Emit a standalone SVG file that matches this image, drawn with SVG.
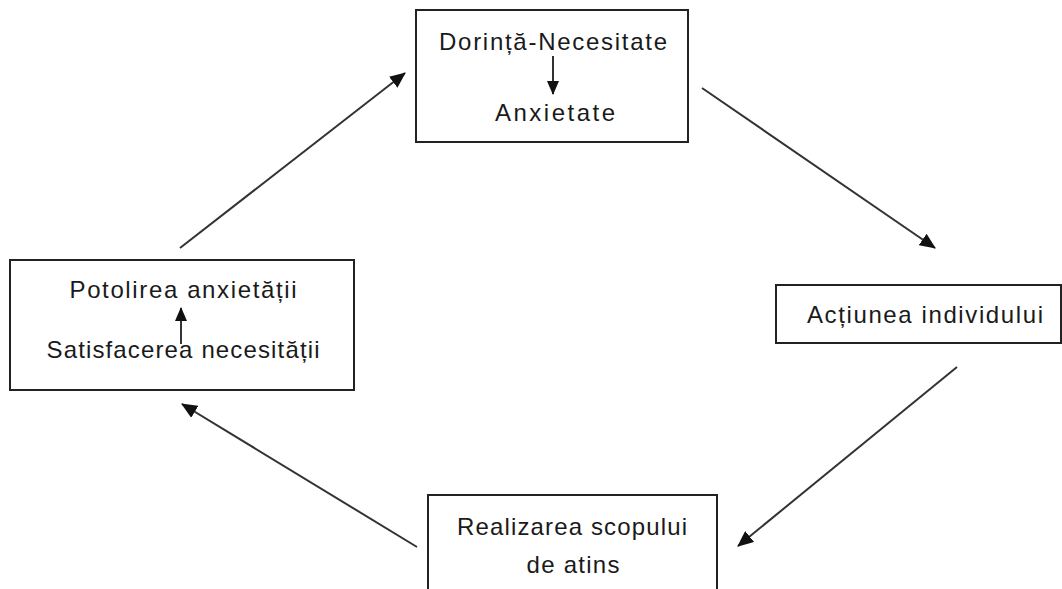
<svg xmlns="http://www.w3.org/2000/svg" width="1062" height="589" viewBox="0 0 1062 589">
<style>
.box{fill:#fff;stroke:#222;stroke-width:2}
.t{font-family:"Liberation Sans",Arial,sans-serif;font-size:24px;fill:#1a1a1a;text-anchor:middle}
.c{stroke:#333;stroke-width:2;fill:none}
</style>
<defs>
<marker id="ah" viewBox="0 0 16 14" refX="15" refY="7" markerWidth="16" markerHeight="14" orient="auto" markerUnits="userSpaceOnUse">
<path d="M0,0 L16,7 L0,14 z" fill="#111"/>
</marker>
<marker id="ahs" viewBox="0 0 14 12" refX="13" refY="6" markerWidth="14" markerHeight="12" orient="auto" markerUnits="userSpaceOnUse">
<path d="M0,0 L14,6 L0,12 z" fill="#111"/>
</marker>
</defs>
<rect width="1062" height="589" fill="#fff"/>
<g id="connectors">
<line class="c" x1="180" y1="248" x2="405" y2="73" marker-end="url(#ah)"/>
<line class="c" x1="702" y1="88" x2="935" y2="248" marker-end="url(#ah)"/>
<line class="c" x1="957" y1="367" x2="738" y2="546" marker-end="url(#ah)"/>
<line class="c" x1="417" y1="547" x2="182" y2="404" marker-end="url(#ah)"/>
</g>
<g id="node-dorinta">
<rect class="box" x="416" y="10" width="272" height="132"/>
<text class="t" x="553" y="50" textLength="228" lengthAdjust="spacing">Dorință-Necesitate</text>
<line class="c" x1="553" y1="56" x2="553" y2="94" marker-end="url(#ahs)"/>
<text class="t" x="555" y="121" textLength="120" lengthAdjust="spacing">Anxietate</text>
</g>
<g id="node-actiunea">
<rect class="box" x="776" y="285" width="285" height="58"/>
<text class="t" x="925" y="323" textLength="236" lengthAdjust="spacing">Acțiunea individului</text>
</g>
<g id="node-realizarea">
<rect class="box" x="428" y="495" width="289" height="100"/>
<text class="t" x="572" y="535" textLength="230" lengthAdjust="spacing">Realizarea scopului</text>
<text class="t" x="573" y="573" textLength="93" lengthAdjust="spacing">de atins</text>
</g>
<g id="node-potolirea">
<rect class="box" x="10" y="260" width="344" height="130"/>
<text class="t" x="183" y="298" textLength="227" lengthAdjust="spacing">Potolirea anxietății</text>
<line class="c" x1="181" y1="344" x2="181" y2="308" marker-end="url(#ahs)"/>
<text class="t" x="183" y="358" textLength="273" lengthAdjust="spacing">Satisfacerea necesității</text>
</g>
</svg>
